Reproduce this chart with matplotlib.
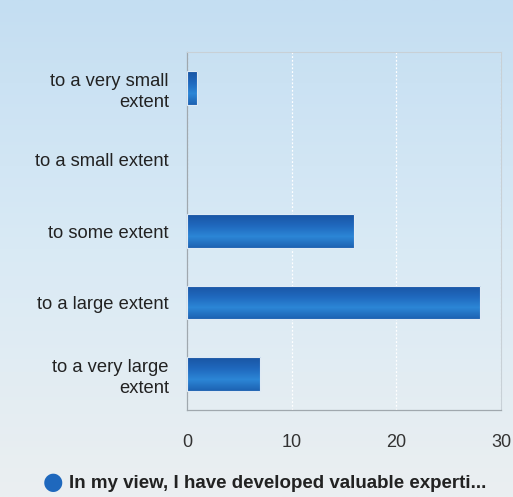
import numpy as np
import matplotlib
matplotlib.use("Agg")
import matplotlib.pyplot as plt
from matplotlib.colors import LinearSegmentedColormap

categories = ["to a very small\nextent", "to a small extent", "to some extent",
              "to a large extent", "to a very large\nextent"]
values = [1, 0, 16, 28, 7]
xticks = [0, 10, 20, 30]
legend_label = "In my view, I have developed valuable experti..."

plt.rcParams['font.family'] = ['Liberation Sans', 'DejaVu Sans']

fig = plt.figure(figsize=(5.13, 4.97), dpi=100)
# background gradient
bg = fig.add_axes([0, 0, 1, 1])
grad = np.linspace(0, 1, 256).reshape(-1, 1)
bgcmap = LinearSegmentedColormap.from_list("bg", ["#c4def2", "#d9eaf5", "#ebeff1"])
bg.imshow(grad, aspect="auto", cmap=bgcmap, extent=[0, 1, 0, 1], origin="upper")
bg.axis("off")

ax = fig.add_axes([187/513, 1-410/497, (501-187)/513, (410-52)/497])
ax.patch.set_alpha(0)
y = np.arange(len(categories))
h = 0.47
barcmap = LinearSegmentedColormap.from_list("bar", ["#1a55a3", "#1f68bd", "#2c86d6", "#1d62b2"])
bars = ax.barh(y, values, height=h, color="none", edgecolor="none")
for b in bars:
    x0, y0 = b.get_x(), b.get_y()
    w, hh = b.get_width(), b.get_height()
    if w <= 0:
        continue
    rect = plt.Rectangle((x0, y0), w, hh, fill=False, edgecolor="#dfeaf4", lw=0.8, zorder=4)
    ax.add_patch(rect)
    im = ax.imshow(np.linspace(0, 1, 64).reshape(-1, 1), cmap=barcmap, aspect="auto",
                   interpolation="bilinear", extent=[x0, x0 + w, y0 + hh, y0], zorder=3)
    im.set_clip_path(rect)

ax.set_xlim(0, 30)
ax.set_ylim(len(categories) - 0.5, -0.5)
ax.set_yticks(y)
ax.set_yticklabels(categories, fontsize=13.2, color="#222222", linespacing=1.3)
ax.set_xticks(xticks)
ax.set_xticklabels([str(t) for t in xticks], fontsize=13, color="#333333")
ax.tick_params(axis="both", length=0)
ax.tick_params(axis="y", pad=13)
ax.tick_params(axis="x", pad=17)
ax.grid(axis="x", color="#ffffff", linestyle=(0, (1.5, 1.5)), lw=0.9)
ax.set_axisbelow(True)
for s in ["top", "right"]:
    ax.spines[s].set_color("#c8d0d6")
    ax.spines[s].set_linewidth(0.8)
for s in ["left", "bottom"]:
    ax.spines[s].set_color("#a0a8ae")
    ax.spines[s].set_linewidth(0.9)

# legend
fig.text(53/513, 1-482/497, "\u25CF", fontsize=17, color="#1f68bd", ha="center", va="center",
         family=["DejaVu Sans"])
fig.text(69/513, 1-483/497, legend_label, fontsize=13.5, fontweight="bold", color="#222222",
         ha="left", va="center")

fig.savefig("out.png", dpi=100)
